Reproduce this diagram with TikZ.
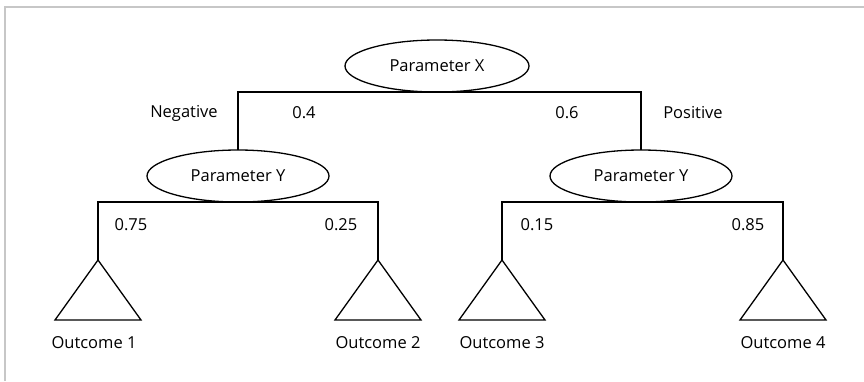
\documentclass[tikz,border=0pt]{standalone}
\usepackage{fontspec}
\setmainfont{Open Sans}
\usetikzlibrary{shapes.geometric}
\begin{document}
\begin{tikzpicture}[x=1pt,y=-1pt,
  line width=1.3pt,
  param/.style={ellipse,draw,inner sep=0pt,outer sep=0pt,
    minimum width=182pt,minimum height=52pt,font=\fontsize{16.5}{19}\selectfont},
  lbl/.style={inner sep=0pt,font=\fontsize{16.5}{19}\selectfont},
  leaf/.style={draw,line join=miter},
  frame/.style={draw=black!22,line width=1.2pt}]
  \useasboundingbox (0,0) rectangle (864,381);
  % page frame (top and left edges)
  \draw[frame] (5,381) -- (5,7) -- (864,7);

  % decision nodes
  \node[param,minimum width=184pt] (px)  at (437,66)  {Parameter X};
  \node[param] (pyl) at (238,176) {Parameter Y};
  \node[param] (pyr) at (641,176) {Parameter Y};

  % outcome apexes
  \coordinate (t1) at (98,260);
  \coordinate (t2) at (378,260);
  \coordinate (t3) at (502,260);
  \coordinate (t4) at (783,260);

  % branches
  \draw (pyl.north) |- (px.south) -| (pyr.north);
  \draw (t1) |- (pyl.south) -| (t2);
  \draw (t3) |- (pyr.south) -| (t4);

  % outcome triangles
  \foreach \t in {t1,t2,t3,t4}
    \draw[leaf] (\t) -- ++(-43,60) -- ++(86,0) -- cycle;

  % branch labels
  \node[lbl] (neg) at (184,113) {Negative};
  \node[lbl] (p04) at (304,113) {0.4};
  \node[lbl] (p06) at (567,113) {0.6};
  \node[lbl] (pos) at (693,113) {Positive};
  \node[lbl] (p075) at (131,225) {0.75};
  \node[lbl] (p025) at (341,225) {0.25};
  \node[lbl] (p015) at (537,225) {0.15};
  \node[lbl] (p085) at (748,225) {0.85};

  % outcome labels
  \node[lbl] (o1) at (94,343)  {Outcome 1};
  \node[lbl] (o2) at (378,343) {Outcome 2};
  \node[lbl] (o3) at (502,343) {Outcome 3};
  \node[lbl] (o4) at (783,343) {Outcome 4};
\end{tikzpicture}
\end{document}
